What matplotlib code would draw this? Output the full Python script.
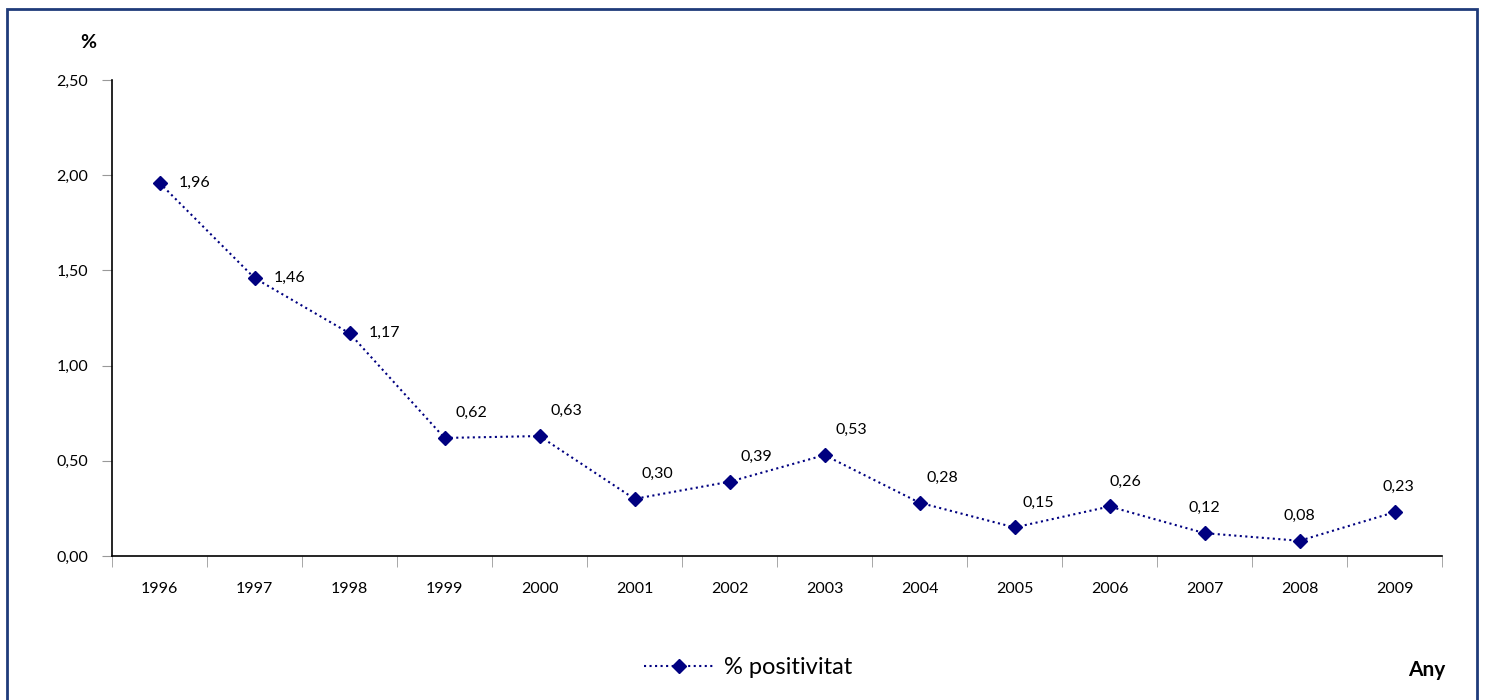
import numpy as np
import matplotlib
matplotlib.use("Agg")
from matplotlib import pyplot as plt
from matplotlib.patches import Rectangle

years = ["1996", "1997", "1998", "1999", "2000", "2001", "2002",
         "2003", "2004", "2005", "2006", "2007", "2008", "2009"]
positivitat = [1.96, 1.46, 1.17, 0.62, 0.63, 0.30, 0.39,
               0.53, 0.28, 0.15, 0.26, 0.12, 0.08, 0.23]
yticks = [0.0, 0.5, 1.0, 1.5, 2.0, 2.5]

# label offsets in points (dx, dy), as in the original layout
offsets = [(14, 0), (14, 0), (14, 0), (8, 18), (8, 18), (5, 18), (8, 18),
           (8, 18), (5, 18), (6, 18), (0, 18), (0, 18), (0, 18), (3, 18)]
aligns = ["left", "left", "left", "left", "left", "left", "left",
          "left", "left", "left", "left", "center", "center", "center"]

plt.rcParams["font.family"] = ["Lato", "DejaVu Sans"]
navy = "#000080"

fig = plt.figure(figsize=(14.86, 7.0), dpi=100)
fig.patches.append(Rectangle((7 / 1486, -0.01), 1470 / 1486, 1.01 - 9 / 700,
                             transform=fig.transFigure, fill=False,
                             edgecolor="#1F3B7A", linewidth=2))
ax = fig.add_axes([112 / 1486, 1 - 556 / 700, 1330 / 1486, 476 / 700])

x = np.arange(len(years))
ax.plot(x, positivitat, linestyle=":", color=navy, linewidth=1.5,
        marker="D", markersize=7.5, markerfacecolor=navy, markeredgecolor=navy,
        label="% positivitat")

for xi, v, off, ha in zip(x, positivitat, offsets, aligns):
    ax.annotate(("%.2f" % v).replace(".", ","), (xi, v), xytext=off,
                textcoords="offset points", ha=ha, va="center", fontsize=11.5)

ax.set_xlim(-0.5, len(years) - 0.5)
ax.set_ylim(0, 2.5)
ax.set_yticks(yticks)
ax.set_yticklabels([("%.2f" % t).replace(".", ",") for t in yticks], fontsize=11.5)
ax.set_xticks(x)
ax.set_xticklabels(years, fontsize=11.5)
ax.set_xticks(np.arange(-0.5, len(years)), minor=True)
ax.tick_params(axis="x", which="major", length=0, pad=19)
ax.tick_params(axis="x", which="minor", length=8, color="#999999", direction="out")
ax.tick_params(axis="y", length=7, color="#999999", direction="out", pad=10)
for s in ["top", "right"]:
    ax.spines[s].set_visible(False)
ax.spines["left"].set_linewidth(1.2)
ax.spines["bottom"].set_linewidth(1.2)

fig.text(88 / 1486, 1 - 42 / 700, "%", fontsize=14, fontweight="bold",
         ha="center", va="center")
fig.text(1427 / 1486, 1 - 670 / 700, "Any", fontsize=15, fontweight="bold",
         ha="center", va="center")
fig.legend(loc="center", bbox_to_anchor=(748 / 1486, 1 - 668 / 700),
           frameon=False, fontsize=17, handlelength=3.0, handletextpad=0.4)

plt.savefig("out.png", dpi=100)
